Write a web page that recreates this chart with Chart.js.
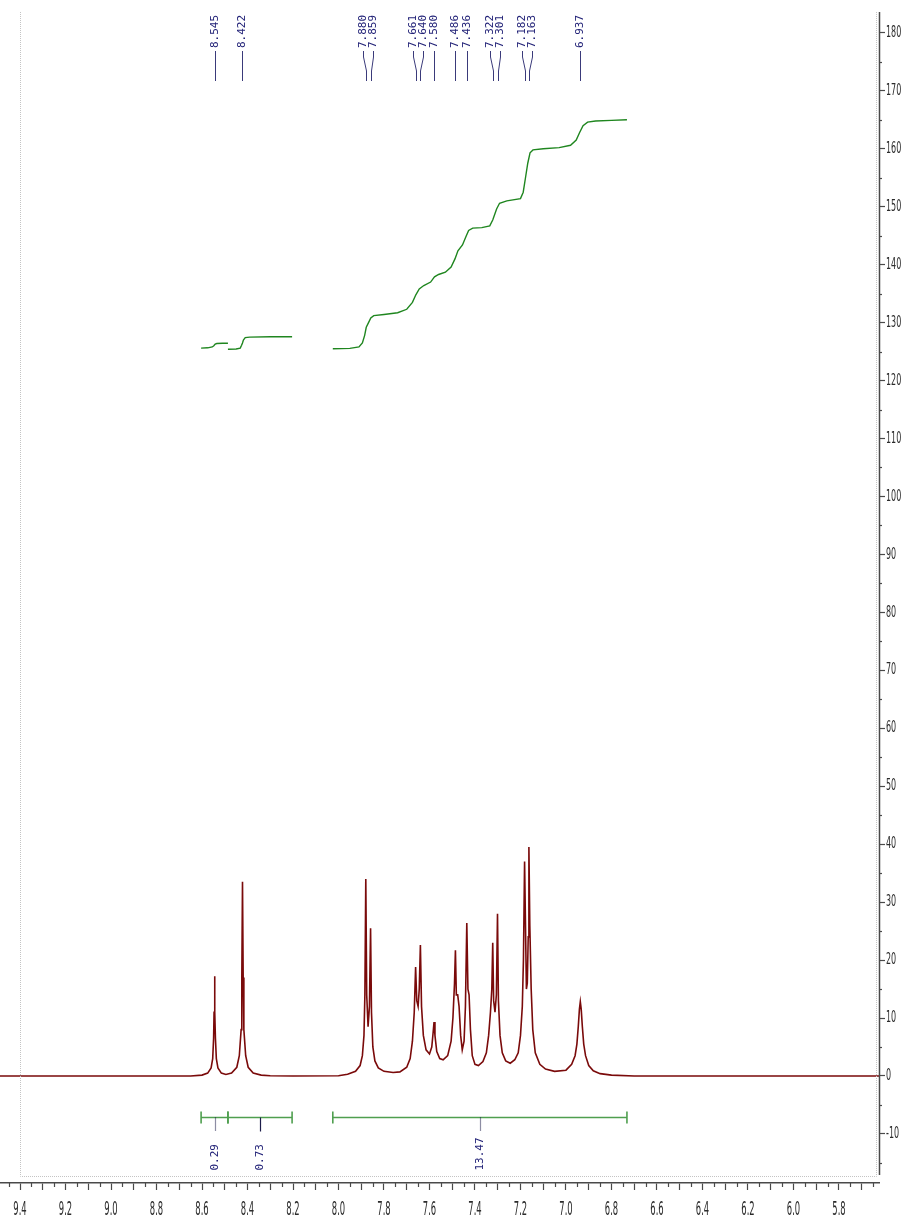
<!DOCTYPE html>
<html>
<head>
<meta charset="utf-8">
<script src="https://cdn.jsdelivr.net/npm/chart.js@4.4.1/dist/chart.umd.min.js"></script>
<style>
  html, body { margin: 0; padding: 0; background: #ffffff; }
  canvas { display: block; }
</style>
</head>
<body>
<canvas id="nmr" width="908" height="1227"></canvas>
<script>
// 1H NMR spectrum (aromatic region) with integral curves and peak picks.

// Axis tick labels
const xTickLabels = ['9.4','9.2','9.0','8.8','8.6','8.4','8.2','8.0','7.8','7.6','7.4','7.2','7.0','6.8','6.6','6.4','6.2','6.0','5.8'];
const yTickLabels = ['-10','0','10','20','30','40','50','60','70','80','90','100','110','120','130','140','150','160','170','180'];

// Spectrum trace, [ppm, intensity]
const baselineLeft  = [[9.488,0],[8.650,0]];
const peak8545 = [[8.600,0.15],[8.575,0.5],[8.560,1.4],[8.553,3.0],[8.549,6.5],[8.547,11],[8.545,17.2],[8.543,11],[8.541,6.5],[8.537,3.0],[8.530,1.4],[8.515,0.5],[8.495,0.25]];
const peak8422 = [[8.470,0.5],[8.447,1.5],[8.436,3.5],[8.428,8],[8.425,17],[8.422,33.5],[8.419,17],[8.416,8],[8.408,3.5],[8.397,1.5],[8.375,0.5],[8.340,0.15],[8.300,0.05]];
const baselineMid = [[8.200,0],[8.000,0.05]];
const group788 = [[7.960,0.3],[7.925,0.8],[7.905,1.8],[7.895,3.5],[7.888,7],[7.884,14],[7.880,34],[7.876,14],[7.870,8.5],[7.864,12],[7.859,25.5],[7.855,11],[7.849,5],[7.840,2.6],[7.825,1.4],[7.800,0.8],[7.760,0.6]];
const group766 = [[7.730,0.7],[7.700,1.5],[7.685,3],[7.675,6],[7.667,11],[7.661,18.8],[7.656,13],[7.650,12],[7.645,15],[7.640,22.6],[7.635,12],[7.627,7],[7.615,4.5],[7.600,3.8],[7.590,5],[7.584,7.5],[7.580,9.3],[7.576,7],[7.568,4.2],[7.555,3.0]];
const group749 = [[7.540,2.8],[7.520,3.5],[7.505,6],[7.497,10],[7.490,16],[7.486,21.7],[7.482,14],[7.476,14],[7.470,12],[7.463,7],[7.456,4.5],[7.448,6],[7.442,12],[7.436,26.4],[7.431,15],[7.426,14],[7.420,8],[7.412,3.5],[7.400,2.0]];
const group731 = [[7.385,1.8],[7.365,2.5],[7.350,4],[7.340,7],[7.332,11],[7.326,15],[7.322,23],[7.318,13],[7.312,11],[7.306,14],[7.301,28],[7.297,13],[7.290,7],[7.280,4],[7.265,2.6],[7.245,2.2]];
const group718 = [[7.225,2.8],[7.210,4],[7.200,7],[7.192,12],[7.187,20],[7.182,37],[7.178,26],[7.174,15],[7.170,16],[7.166,24],[7.163,39.5],[7.159,26],[7.153,15],[7.146,8],[7.135,4],[7.115,2],[7.090,1.2],[7.050,0.8]];
const peak6937 = [[7.000,1.0],[6.975,2],[6.960,3.5],[6.952,5.5],[6.946,8.5],[6.941,11.5],[6.937,12.8],[6.933,11.5],[6.928,8.5],[6.922,5.5],[6.914,3.5],[6.900,1.8],[6.880,0.9],[6.850,0.4],[6.800,0.15]];
const baselineRight = [[6.700,0],[5.624,0]];

// Integral curves, [ppm, running integral]
const integralA = [[8.604,125.6],[8.575,125.65],[8.555,125.8],[8.548,126.0],[8.542,126.3],[8.535,126.4],[8.510,126.45],[8.486,126.45]];
const integralB = [[8.486,125.4],[8.450,125.45],[8.432,125.6],[8.426,126.1],[8.422,126.5],[8.418,127.0],[8.410,127.4],[8.390,127.5],[8.300,127.55],[8.204,127.55]];
const integralC = [[8.025,125.5],[7.950,125.55],[7.910,125.8],[7.895,126.5],[7.885,127.8],[7.878,129.2],[7.868,130.0],[7.858,130.8],[7.845,131.2],[7.800,131.4],[7.740,131.7],[7.700,132.3],[7.675,133.5],[7.660,134.8],[7.645,135.8],[7.625,136.4],[7.595,137.0],[7.578,137.9],[7.560,138.3],[7.530,138.7],[7.505,139.6],[7.488,141.0],[7.475,142.4],[7.455,143.4],[7.440,144.8],[7.428,145.9],[7.410,146.3],[7.370,146.4],[7.335,146.7],[7.322,147.7],[7.305,149.6],[7.292,150.6],[7.260,151.0],[7.200,151.4],[7.188,152.5],[7.178,155.0],[7.168,157.5],[7.158,159.3],[7.145,159.8],[7.100,160.0],[7.030,160.2],[6.980,160.6],[6.955,161.5],[6.940,162.8],[6.925,164.0],[6.905,164.6],[6.870,164.8],[6.800,164.9],[6.732,165.0]];

// Integration ranges (ppm) and their values
const integralRanges = [[8.604,8.486],[8.486,8.204],[8.025,6.732]];
const integralValues = ['0.29','0.73','13.47'];

// Picked peaks (ppm)
const peakPicks = ['8.545','8.422','7.880','7.859','7.661','7.640','7.580','7.486','7.436','7.322','7.301','7.182','7.163','6.937'];

const toXY = arr => arr.map(([x, y]) => ({ x, y }));
const spectrum = [].concat(baselineLeft, peak8545, peak8422, baselineMid, group788, group766,
                           group749, group731, group718, peak6937, baselineRight);

const SPEC_COLOR = '#7a0a0a';
const INT_COLOR = '#1f861f';
const LABEL_COLOR = '#232378';
const AXIS_COLOR = '#4a4a4a';
const TEXT_COLOR = '#2b2b2b';

// Draws condensed text (tall, narrow digits as used on the axes)
function condensedText(ctx, text, px, py, squeeze, align) {
  ctx.save();
  ctx.translate(px, py);
  ctx.scale(squeeze, 1);
  ctx.textAlign = align;
  ctx.fillText(text, 0, 0);
  ctx.restore();
}

const decorations = {
  id: 'decorations',
  afterDraw(chart) {
    const { ctx, chartArea: a, scales: { x, y } } = chart;
    ctx.save();

    // dotted plot frame
    ctx.strokeStyle = '#c4c4c4';
    ctx.lineWidth = 1;
    ctx.setLineDash([1, 1]);
    const fl = Math.round(x.getPixelForValue(9.4)) + 0.5;
    const fr = a.right - 2.5;
    const fb = a.bottom - 6.5;
    ctx.beginPath();
    ctx.moveTo(fl, a.top); ctx.lineTo(fl, fb); ctx.lineTo(fr, fb); ctx.lineTo(fr, a.top);
    ctx.stroke();
    ctx.setLineDash([]);

    // intensity axis line and minor ticks
    ctx.strokeStyle = AXIS_COLOR;
    ctx.lineWidth = 1.5;
    ctx.beginPath(); ctx.moveTo(a.right + 0.5, a.top); ctx.lineTo(a.right + 0.5, a.bottom - 8); ctx.stroke();
    ctx.lineWidth = 1.2;
    for (let v = -15; v <= 180; v += 10) {
      const py = Math.round(y.getPixelForValue(v)) + 0.5;
      ctx.beginPath(); ctx.moveTo(a.right, py); ctx.lineTo(a.right + 3, py); ctx.stroke();
    }
    // minor ticks on the ppm axis
    for (let k = 113; k <= 189; k += 2) {
      const px = Math.round(x.getPixelForValue(k / 20)) + 0.5;
      ctx.beginPath(); ctx.moveTo(px, a.bottom); ctx.lineTo(px, a.bottom + 4); ctx.stroke();
    }

    // tick labels
    ctx.fillStyle = TEXT_COLOR;
    ctx.textBaseline = 'middle';
    ctx.font = "20px 'DejaVu Sans', sans-serif";
    xTickLabels.forEach(l => condensedText(ctx, l, x.getPixelForValue(parseFloat(l)), a.bottom + 27, 0.42, 'center'));
    ctx.font = "16px 'DejaVu Sans', sans-serif";
    yTickLabels.forEach(l => condensedText(ctx, l, a.right + 7, y.getPixelForValue(parseFloat(l)), 0.5, 'left'));

    // peak picks: labels spread apart, leader lines converge onto the peaks
    const picks = peakPicks.map(t => ({ t, px: x.getPixelForValue(parseFloat(t)) }))
                           .sort((p, q) => p.px - q.px);
    const gap = 10;
    const clusters = [];
    picks.forEach(p => {
      const last = clusters[clusters.length - 1];
      if (last && p.px - last[last.length - 1].px < gap) last.push(p); else clusters.push([p]);
    });
    clusters.forEach(c => {
      const mean = c.reduce((s, p) => s + p.px, 0) / c.length;
      c.forEach((p, i) => { p.lx = c.length > 1 ? mean + (i - (c.length - 1) / 2) * gap : p.px; });
    });
    ctx.strokeStyle = '#3a3a7a';
    ctx.lineWidth = 1;
    ctx.fillStyle = LABEL_COLOR;
    ctx.font = "11px 'DejaVu Sans Mono', monospace";
    ctx.textAlign = 'left';
    ctx.textBaseline = 'middle';
    picks.forEach(p => {
      const lx = Math.round(p.lx) + 0.5, px = Math.round(p.px) + 0.5;
      ctx.beginPath();
      ctx.moveTo(lx, 51); ctx.lineTo(lx, 57); ctx.lineTo(px, 71); ctx.lineTo(px, 81);
      ctx.stroke();
      ctx.save();
      ctx.translate(lx, 48);
      ctx.rotate(-Math.PI / 2);
      ctx.fillText(p.t, 0, 0);
      ctx.restore();
    });

    // integration bars with values
    const barY = Math.round(y.getPixelForValue(-7.1)) + 0.5;
    const markerDash = [[1, 1], [], [1, 1]];
    integralRanges.forEach(([from, to], i) => {
      const x1 = x.getPixelForValue(from), x2 = x.getPixelForValue(to);
      ctx.strokeStyle = '#4f9f4f';
      ctx.lineWidth = 1.6;
      ctx.setLineDash([]);
      ctx.beginPath();
      ctx.moveTo(x1, barY); ctx.lineTo(x2, barY);
      ctx.moveTo(x1, barY - 6); ctx.lineTo(x1, barY + 6);
      ctx.moveTo(x2, barY - 6); ctx.lineTo(x2, barY + 6);
      ctx.stroke();
      const mx = Math.round((x1 + x2) / 2) + 0.5;
      ctx.strokeStyle = '#1c1c4a';
      ctx.lineWidth = 1.2;
      ctx.setLineDash(markerDash[i]);
      ctx.beginPath(); ctx.moveTo(mx, barY); ctx.lineTo(mx, barY + 14); ctx.stroke();
      ctx.setLineDash([]);
      ctx.save();
      ctx.translate(mx, barY + 53);
      ctx.rotate(-Math.PI / 2);
      ctx.fillStyle = LABEL_COLOR;
      ctx.fillText(integralValues[i], 0, 0);
      ctx.restore();
    });

    ctx.restore();
  }
};

new Chart(document.getElementById('nmr'), {
  type: 'line',
  data: {
    datasets: [
      { label: 'spectrum', data: toXY(spectrum), borderColor: SPEC_COLOR, borderWidth: 1.6 },
      { label: 'integral 1', data: toXY(integralA), borderColor: INT_COLOR, borderWidth: 1.4 },
      { label: 'integral 2', data: toXY(integralB), borderColor: INT_COLOR, borderWidth: 1.4 },
      { label: 'integral 3', data: toXY(integralC), borderColor: INT_COLOR, borderWidth: 1.4 }
    ]
  },
  options: {
    responsive: false,
    animation: false,
    devicePixelRatio: 1,
    elements: { point: { radius: 0 }, line: { tension: 0, fill: false } },
    layout: { padding: { top: 12, left: 0, right: 0, bottom: 0 } },
    plugins: { legend: { display: false }, tooltip: { enabled: false } },
    scales: {
      x: {
        type: 'linear',
        reverse: true,
        min: 5.624,
        max: 9.488,
        afterFit: s => { s.height = 44; },
        afterBuildTicks: s => {
          const t = [];
          for (let k = 57; k <= 94; k++) t.push({ value: k / 10 });
          s.ticks = t;
        },
        border: { display: true, color: AXIS_COLOR, width: 1.5 },
        grid: { drawOnChartArea: false, drawTicks: true, tickLength: 7, tickColor: AXIS_COLOR, tickWidth: 1.2 },
        ticks: { display: false, autoSkip: false, maxRotation: 0 }
      },
      y: {
        type: 'linear',
        position: 'right',
        min: -18.47,
        max: 183.6,
        afterFit: s => { s.width = 29; },
        afterBuildTicks: s => { s.ticks = yTickLabels.map(l => ({ value: parseFloat(l) })); },
        border: { display: false },
        grid: { drawOnChartArea: false, drawTicks: true, tickLength: 6, tickColor: AXIS_COLOR, tickWidth: 1.2 },
        ticks: { display: false, autoSkip: false }
      }
    }
  },
  plugins: [decorations]
});
</script>
</body>
</html>
